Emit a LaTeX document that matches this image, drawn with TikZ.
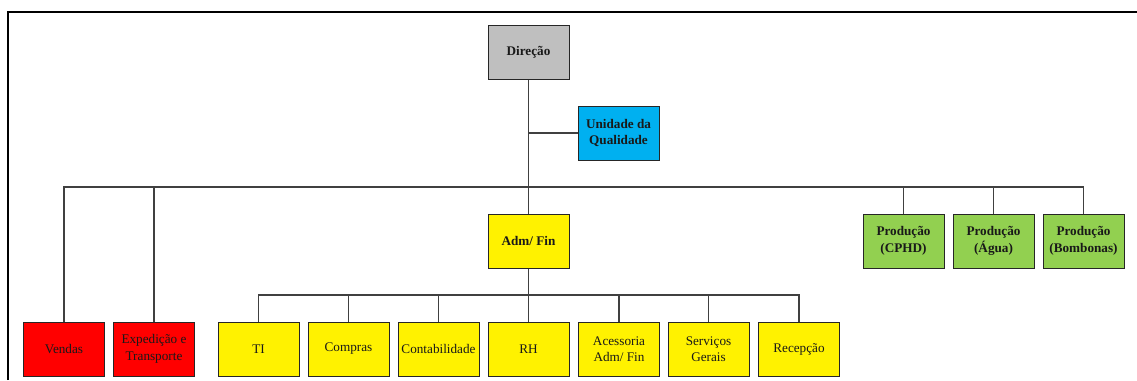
\documentclass[tikz,border=0pt]{standalone}
\usepackage{fontspec}
\setmainfont{Liberation Serif}
\begin{document}
\begin{tikzpicture}[x=1pt,y=-1pt,
  box/.style={draw=black!85,line width=1pt,minimum width=81pt,minimum height=54pt,
    inner sep=1pt,align=center,font=\fontsize{13.2}{16.5}\selectfont,text=black!90},
  head/.style={box,font=\fontsize{13.2}{16.5}\selectfont\bfseries},
  link/.style={draw=black!75,line width=1.1pt}]
\useasboundingbox (0,0) rectangle (1137,380);
% page frame
\draw[line width=2pt] (7.5,380) -- (7.5,11.5) -- (1137,11.5);

% top levels
\node[head,fill=black!25] (dir) at (528.5,52) {Direção};
\node[head,fill={rgb,255:red,0;green,176;blue,240}] (uq) at (618.5,133) {Unidade da\\Qualidade};
\node[head,fill=yellow] (adm) at (528.5,241) {Adm/ Fin};
\node[head,fill={rgb,255:red,146;green,208;blue,80}] (p1) at (903.5,241) {Produção\\(CPHD)};
\node[head,fill={rgb,255:red,146;green,208;blue,80}] (p2) at (993.5,241) {Produção\\(Água)};
\node[head,fill={rgb,255:red,146;green,208;blue,80}] (p3) at (1083.5,241) {Produção\\(Bombonas)};

% bottom row
\node[box,fill=red] (ven) at (64,349) {Vendas};
\node[box,fill=red] (exp) at (154,349) {Expedição e\\Transporte};
\node[box,fill=yellow] (ti) at (258.5,349) {TI};
\node[box,fill=yellow] (com) at (348.5,349) {Compras};
\node[box,fill=yellow] (con) at (438.5,349) {Contabilidade};
\node[box,fill=yellow] (rh) at (528.5,349) {RH};
\node[box,fill=yellow] (ace) at (619,349) {Acessoria\\Adm/ Fin};
\node[box,fill=yellow] (ser) at (708.5,349) {Serviços\\Gerais};
\node[box,fill=yellow] (rec) at (799,349) {Recepção};

% bus junctions
\coordinate (jq) at (528.5,133);
\coordinate (b1) at (528.5,187);
\coordinate (b2) at (528.5,295);

% connectors
\draw[link] (dir.south) -- (adm.north);
\draw[link] (jq) -- (uq.west);
\draw[link] (ven.north) |- (b1) -| (p3.north);
\draw[link] (exp.north) -- (exp.north |- b1);
\draw[link] (p1.north) -- (p1.north |- b1);
\draw[link] (p2.north) -- (p2.north |- b1);
\draw[link] (adm.south) -- (rh.north);
\draw[link] (ti.north) |- (b2) -| (rec.north);
\draw[link] (com.north) -- (com.north |- b2);
\draw[link] (con.north) -- (con.north |- b2);
\draw[link] (ace.north) -- (ace.north |- b2);
\draw[link] (ser.north) -- (ser.north |- b2);
\end{tikzpicture}
\end{document}
